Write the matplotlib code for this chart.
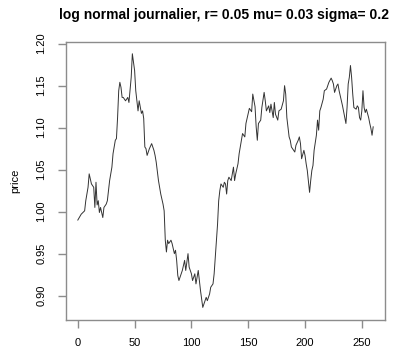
import matplotlib
matplotlib.use("Agg")
import matplotlib.pyplot as plt

# values (day, price)
days = [0, 3, 6, 7, 9, 10, 12, 14, 15, 16, 17, 18, 19, 20, 22, 23, 25, 26, 28, 30,
        31, 33, 34, 35, 36, 37, 38, 39, 40, 41, 42, 44, 45, 47, 48, 50, 51, 53, 54, 56,
        57, 58, 59, 60, 61, 63, 65, 67, 68, 69, 71, 73, 75, 76, 77, 78, 79, 80, 82, 83,
        85, 86, 87, 88, 89, 91, 92, 94, 95, 97, 98, 100, 101, 103, 104, 106, 107, 108, 110, 111,
        113, 114, 116, 117, 119, 120, 122, 123, 124, 125, 126, 128, 129, 130, 131, 132, 133, 135, 137, 138,
        139, 141, 142, 144, 145, 147, 148, 150, 151, 153, 154, 156, 157, 158, 159, 161, 162, 164, 165, 166,
        168, 169, 170, 172, 173, 174, 176, 177, 179, 181, 182, 183, 184, 186, 187, 188, 189, 191, 192, 194,
        195, 196, 197, 199, 200, 201, 202, 204, 205, 206, 207, 208, 210, 211, 212, 213, 214, 216, 217, 219,
        220, 221, 223, 224, 225, 226, 228, 229, 230, 232, 233, 235, 236, 237, 238, 239, 240, 241, 242, 243,
        245, 246, 247, 248, 249, 250, 251, 252, 253, 254, 256, 257, 258, 259, 260]
price = [0.990, 0.997, 1.001, 1.013, 1.029, 1.045, 1.033, 1.029, 1.005, 1.035, 1.008, 1.013, 0.999, 1.005, 0.993, 1.005, 1.009, 1.013, 1.037, 1.053,
         1.069, 1.085, 1.087, 1.112, 1.144, 1.154, 1.148, 1.136, 1.136, 1.134, 1.132, 1.136, 1.130, 1.160, 1.188, 1.168, 1.144, 1.120, 1.132, 1.117,
         1.120, 1.111, 1.077, 1.075, 1.067, 1.075, 1.081, 1.073, 1.067, 1.059, 1.037, 1.021, 1.009, 1.001, 0.966, 0.952, 0.966, 0.962, 0.966, 0.962,
         0.950, 0.954, 0.942, 0.924, 0.918, 0.926, 0.930, 0.942, 0.930, 0.950, 0.934, 0.926, 0.918, 0.926, 0.914, 0.930, 0.918, 0.906, 0.886, 0.890,
         0.898, 0.894, 0.902, 0.910, 0.914, 0.926, 0.966, 0.985, 1.013, 1.025, 1.033, 1.029, 1.035, 1.033, 1.021, 1.037, 1.041, 1.037, 1.053, 1.037,
         1.045, 1.057, 1.069, 1.085, 1.093, 1.089, 1.105, 1.117, 1.123, 1.119, 1.140, 1.125, 1.101, 1.085, 1.105, 1.109, 1.124, 1.142, 1.132, 1.120,
         1.126, 1.118, 1.128, 1.112, 1.130, 1.116, 1.109, 1.120, 1.122, 1.132, 1.150, 1.140, 1.112, 1.089, 1.085, 1.077, 1.075, 1.071, 1.079, 1.085,
         1.089, 1.081, 1.063, 1.073, 1.067, 1.057, 1.049, 1.023, 1.037, 1.049, 1.055, 1.073, 1.091, 1.109, 1.097, 1.120, 1.124, 1.134, 1.144, 1.146,
         1.150, 1.154, 1.159, 1.156, 1.152, 1.142, 1.150, 1.152, 1.144, 1.132, 1.126, 1.112, 1.105, 1.124, 1.152, 1.160, 1.174, 1.160, 1.140, 1.124,
         1.122, 1.126, 1.124, 1.112, 1.109, 1.120, 1.144, 1.124, 1.118, 1.122, 1.112, 1.105, 1.099, 1.091, 1.101]

xticks = [0, 50, 100, 150, 200, 250]
yticks = [0.90, 0.95, 1.00, 1.05, 1.10, 1.15, 1.20]

plt.rcParams['font.family'] = ['Liberation Sans', 'DejaVu Sans']

fig = plt.figure(figsize=(3.94, 3.51), dpi=100)
ax = fig.add_axes([66 / 394, 1 - 320 / 351, (385 - 66) / 394, (320 - 42) / 351])

ax.plot(days, price, color='#333333', lw=0.7)

ax.set_xlim(-10.4, 270.4)
ax.set_ylim(0.871, 1.202)
ax.set_xticks(xticks)
ax.set_yticks(yticks)
ax.set_yticklabels([f"{v:.2f}" for v in yticks], rotation=90, va='center')

for s in ax.spines.values():
    s.set_color('#8c8c8c')
    s.set_linewidth(1.0)
ax.tick_params(direction='out', length=6, width=1.0, color='#8c8c8c',
               labelsize=8, labelcolor='black')
ax.tick_params(axis='x', pad=7)
ax.tick_params(axis='y', pad=8)

ax.set_ylabel('price', fontsize=8)
ax.yaxis.set_label_coords(-(66 - 20) / 319, 0.5)

fig.text(224 / 394, 1 - 15 / 351, 'log normal journalier, r= 0.05 mu= 0.03 sigma= 0.2',
         ha='center', va='center', fontsize=10, fontweight='bold')

fig.savefig('out.png', dpi=100)
